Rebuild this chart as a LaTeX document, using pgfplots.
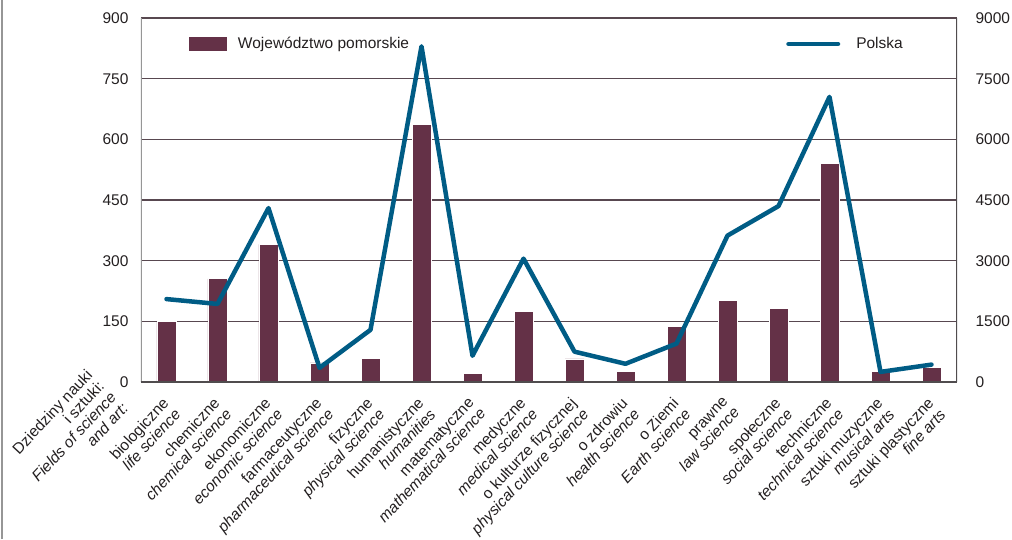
\documentclass[border=0pt]{standalone}
\usepackage{fontspec}
\setmainfont{Liberation Sans}
\usepackage{pgfplots}
\pgfplotsset{compat=1.18}

\definecolor{barcol}{RGB}{100,49,71}
\definecolor{linecol}{RGB}{0,92,133}
\definecolor{gridcol}{RGB}{88,72,80}
\definecolor{txtcol}{RGB}{35,31,32}
\definecolor{leftax}{RGB}{150,150,150}
\definecolor{darkax}{RGB}{80,76,78}

\newcommand\lab[2]{#1\\\textit{#2}}
\newcommand\fnt{\fontsize{15.5}{16.3}\selectfont}

\pgfplotsset{
  common/.style={
    at={(0,0)}, anchor=south west,
    scale only axis, width=816pt, height=364pt,
    xmin=-0.5, xmax=15.5,
    major tick length=0pt,
    tick label style={font=\fnt, text=txtcol},
    /pgf/number format/assume math mode=true,
    /pgf/number format/1000 sep={},
    axis line style={draw=none},
    legend cell align=left,
  }
}

\begin{document}
\begin{tikzpicture}[x=1pt,y=1pt]
\useasboundingbox (-141,-157) rectangle (871,382);
\draw[leftax, line width=1.5pt] (-139,-157) -- (-139,382);

\begin{axis}[common,
  ymin=0, ymax=900,
  ytick={0,150,...,900},
  yticklabel style={xshift=-9pt},
  ymajorgrids, grid style={gridcol, line width=1.2pt},
  xtick={0,...,15},
  xticklabels={
    {\lab{biologiczne}{life science}},
    {\lab{chemiczne}{chemical science}},
    {\lab{ekonomiczne}{economic science}},
    {\lab{farmaceutyczne}{pharmaceutical science}},
    {\lab{fizyczne}{physical science}},
    {\lab{humanistyczne}{humanities}},
    {\lab{matematyczne}{mathematical science}},
    {\lab{medyczne}{medical science}},
    {\lab{o kulturze fizycznej}{physical culture science}},
    {\lab{o zdrowiu}{health science}},
    {\lab{o Ziemi}{Earth science}},
    {\lab{prawne}{law science}},
    {\lab{społeczne}{social science}},
    {\lab{techniczne}{technical science}},
    {\lab{sztuki muzyczne}{musical arts}},
    {\lab{sztuki plastyczne}{fine arts}}
  },
  xticklabel style={rotate=47, anchor=north east, align=right, inner sep=0pt, xshift=-14pt, yshift=-6pt},
  legend style={at={(0.0588,0.9286)}, anchor=west, draw=none, fill=none,
    inner sep=0pt, font=\fnt, text=txtcol,
    /tikz/every odd column/.append style={column sep=9pt}},
  legend image code/.code={\fill[barcol] (0pt,-6.5pt) rectangle (37pt,6.5pt);},
]
\addplot[ybar, bar width=19pt, fill=barcol, draw=white, line width=0.8pt]
  coordinates {(0,150) (1,255) (2,340) (3,47) (4,58) (5,637) (6,22) (7,175)
    (8,57) (9,25) (10,138) (11,201) (12,182) (13,540) (14,27) (15,35)};
\addlegendentry{Województwo pomorskie}
\draw[leftax, line width=1.5pt] (rel axis cs:0,0) -- (rel axis cs:0,1);
\draw[darkax, line width=1.3pt] (rel axis cs:0,0) -- (rel axis cs:1,0);
\end{axis}

\begin{axis}[common,
  ymin=0, ymax=9000,
  ytick={0,1500,...,9000},
  axis y line*=right, axis x line=none,
  yticklabel style={xshift=15pt},
  legend style={at={(0.7905,0.9286)}, anchor=west, draw=none, fill=none,
    inner sep=0pt, font=\fnt, text=txtcol,
    /tikz/every odd column/.append style={column sep=14pt}},
  legend image code/.code={\draw[linecol, line width=4.5pt, line cap=round] (2.25pt,0pt) -- (51.75pt,0pt);},
]
\addplot[linecol, line width=4.5pt, line join=round, line cap=round, mark=none]
  coordinates {(0,2050) (1,1930) (2,4300) (3,350) (4,1290) (5,8300) (6,650) (7,3050)
    (8,750) (9,450) (10,950) (11,3620) (12,4350) (13,7050) (14,250) (15,430)};
\addlegendentry{Polska}
\draw[darkax, line width=1.3pt] (rel axis cs:1,0) -- (rel axis cs:1,1);
\end{axis}

\node[anchor=north east, rotate=47, align=right, inner sep=0pt, font=\fnt, text=txtcol]
  at (-56,14) {Dziedziny nauki\\i sztuki:\\\textit{Fields of science}\\\textit{and art:}};
\end{tikzpicture}
\end{document}
